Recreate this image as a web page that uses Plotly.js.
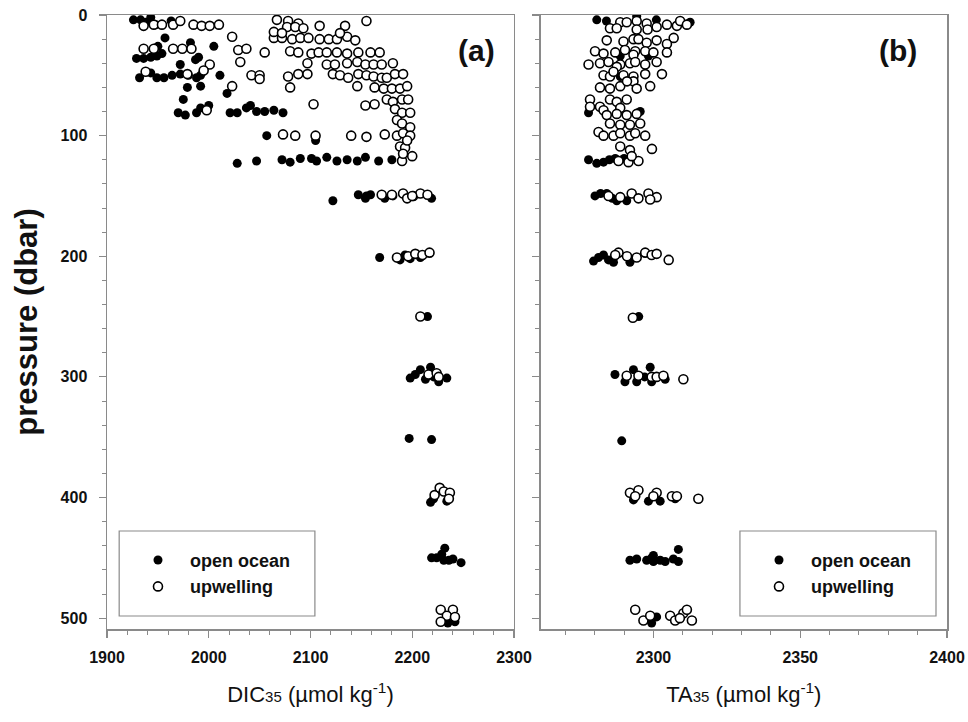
<!DOCTYPE html>
<html>
<head>
<meta charset="utf-8">
<script src="https://cdn.plot.ly/plotly-3.0.1.min.js"></script>
<style>html,body{margin:0;padding:0;background:#fff;}#chart{width:968px;height:722px;}</style>
</head>
<body>
<div id="chart"></div>
<script>
// ---- Panel (a): DIC35, open ocean (filled) ----
const dicOpenX = [1926,1933,1938,1943,1948,1963,1957,
  1929,1936,1943,1949,1954,1950,1982,1990,1987,2005,1972,
  1932,1943,1949,1956,1964,1972,1980,1988,1992,2011,
  1979,1992,2018,1975,
  1970,1977,1988,1992,2000,2021,2028,2037,2041,2047,2055,2064,2073,
  2057,2105,
  2028,2047,2072,2080,2090,2101,2106,2116,2126,2136,2146,2154,2167,2180,2190,
  2122,2147,2155,2154,2159,2173,2181,2195,2219,
  2168,2188,2193,2208,2198,
  2215,
  2198,2203,2208,2213,2218,2222,2226,2234,2221,
  2197,2219,
  2218,2221,2234,
  2219,2224,2229,2232,2231,2236,2240,2248,
  2235,2242];
const dicOpenP = [4,4,6,2,8,5,19,
  36,36,35,34,32,26,23,35,37,26,41,
  52,48,52,52,50,49,50,52,50,50,
  60,59,65,70,
  81,83,81,77,75,81,81,77,75,80,80,79,81,
  100,104,
  123,121,120,122,119,119,121,118,121,120,121,118,121,120,120,
  154,149,150,152,149,152,150,152,152,
  201,203,199,201,202,
  250,
  301,298,294,302,292,297,304,301,300,
  351,352,
  404,401,403,
  450,450,447,442,452,452,451,454,
  504,503];

// ---- Panel (a): DIC35, upwelling (open) ----
const dicUpX = [1936,1946,1954,1965,1972,1985,1993,2001,2010,
  2067,2078,2088,2077,2085,2093,2109,2134,2155,
  2064,2072,2082,2090,2098,2109,2118,2126,2136,2144,2129,2023,2064,2072,
  1936,1946,1965,1974,1983,2029,2037,2055,2080,2088,2101,2108,2116,2126,2136,2147,2159,2168,
  2031,2097,2116,2124,2136,2146,2154,2162,2170,2181,2001,
  1938,1979,1995,2042,2050,2050,2078,2088,2097,2122,2129,2137,2147,2155,2162,2170,2175,2183,2191,
  2023,2080,2146,2163,2172,2180,2188,2195,
  2103,2154,2163,2175,2181,2190,2196,
  1998,2183,2190,2198,2185,2190,2198,
  2073,2085,2105,2140,2155,2173,2185,2191,2198,2188,2193,2195,
  2190,2200,2191,
  2170,2180,2191,2201,2208,2215,2195,2200,
  2185,2196,2203,2210,2217,
  2208,
  2216,2224,2226,
  2222,2227,2231,2237,2236,
  2228,2240,2234,2242,2228];
const dicUpP = [9,8,8,8,5,8,9,9,8,
  4,5,7,10,10,11,9,9,5,
  19,19,20,19,19,20,20,20,18,21,15,18,14,15,
  28,28,28,28,28,29,28,31,30,31,32,31,31,31,32,31,31,31,
  39,40,41,41,40,39,41,41,41,40,41,
  47,49,46,50,50,53,51,49,49,49,50,52,49,50,51,52,52,49,49,
  59,60,59,60,61,61,61,59,
  74,75,74,70,72,70,70,
  79,78,81,81,87,90,93,
  99,100,100,100,101,99,100,98,100,109,110,104,
  121,117,115,
  149,149,148,150,148,149,152,150,
  201,200,198,199,197,
  250,
  298,297,300,
  398,392,395,396,401,
  493,493,498,499,503];

// ---- Panel (b): TA35, open ocean (filled) ----
const taOpenX = [2280.7,2284,2294.3,2312.5,2301,
  2288.7,2298.3,2288.7,2293.2,2277.9,2295.5,
  2277.9,2280.7,2283,2285,2287,2290,
  2280.1,2282,2284.1,2287.5,2290.9,2286,
  2279.6,2281.3,2283,2284.7,2286.4,2292,
  2295,
  2286.9,2290.3,2293.2,2294.3,2298.9,2299.4,2304,2297,
  2289.2,
  2293.2,2298.3,2302.3,2307.4,
  2292,2294.3,2297.7,2299.4,2300,2302.3,2304,2306.8,2308.5,2308.5,2300,
  2299.4,2301.1];
const taOpenP = [4,5,1,6,4,
  34,34,51,54,81,80,
  120,123,122,120,119,119,
  150,148,148,154,154,152,
  204,201,199,203,205,205,
  250,
  298,304,294,304,292,304,302,300,
  353,
  402,403,403,401,
  452,451,452,450,453,452,453,451,453,443,448,
  504,499];

// ---- Panel (b): TA35, upwelling (open) ----
const taUpX = [2285.2,2288.7,2290.9,2294.3,2297.7,2301.1,2304.6,2308,2309.1,2311.4,2287.5,2294.3,2298,
  2284.1,2289.8,2293.2,2294.9,2297.7,2301.1,2306.9,2304.6,
  2280.1,2283,2287,2290.3,2293.8,2297.2,2300,2304.6,2293.2,
  2277.9,2281.8,2284.7,2288.7,2292,2293.8,2297.2,2301.1,2287.5,
  2283,2285.2,2289.8,2293.2,2297.2,2302.9,2286.4,
  2281.8,2285.2,2288.7,2293.2,2294.3,2298.9,2291,
  2278.4,2278.4,2281.8,2285.2,2287.5,2290.9,2283,2288.7,
  2284.1,2287.5,2290.9,2294.3,
  2285.2,2288.7,2292,2295.5,
  2281.3,2283,2286.4,2288.7,2292,2293.8,2297.2,
  2288.7,2292,2299.5,
  2288.1,2291.5,2294.9,2292.6,
  2284.7,2288.7,2292.6,2294.9,2298.3,2301.1,2298.9,
  2288.1,2287,2291,2294.3,2297.2,2299.4,2301.1,2305.2,
  2293,
  2290.9,2294.9,2299.4,2301.1,2303.4,2310.2,
  2292,2294.9,2293.8,2301.1,2300,2306.3,2308,2315.3,
  2293.8,2296.6,2298.9,2305.7,2307.4,2310.2,2311.4,2313.1,2309];
const taUpP = [11,6,6,5,7,10,8,9,5,8,11,12,12,
  21,22,20,20,23,21,19,24,
  30,32,31,29,30,30,31,31,33,
  41,40,39,41,40,39,41,39,43,
  50,51,50,51,49,49,47,
  60,61,59,55,61,59,55,
  70,76,76,70,72,70,79,77,
  83,82,83,82,
  90,91,91,90,
  97,100,100,98,100,98,100,
  109,112,111,
  121,122,121,117,
  150,151,148,152,148,151,153,
  197,199,200,201,197,199,198,203,
  251,
  299,299,300,300,299,302,
  396,394,399,396,399,399,399,401,
  493,502,498,498,502,496,493,502,500];

const legendNames = ['open ocean', 'upwelling'];
const panelLabels = ['(a)', '(b)'];
const xTitleA = 'DIC<span style="font-size:15px">35</span> (µmol kg<sup>-1</sup>)';
const xTitleB = 'TA<span style="font-size:15px">35</span> (µmol kg<sup>-1</sup>)';
const yTitle = 'pressure (dbar)';

const FONT = 'Liberation Sans, Arial, sans-serif';
const filled = {size: 9, color: '#000', line: {width: 0}};
const hollow = {size: 9, color: '#fff', line: {width: 1.6, color: '#000'}};

const traces = [
  {x: dicOpenX, y: dicOpenP, type: 'scatter', mode: 'markers', name: legendNames[0], marker: filled, xaxis: 'x', yaxis: 'y', legend: 'legend'},
  {x: dicUpX, y: dicUpP, type: 'scatter', mode: 'markers', name: legendNames[1], marker: hollow, xaxis: 'x', yaxis: 'y', legend: 'legend'},
  {x: taOpenX, y: taOpenP, type: 'scatter', mode: 'markers', name: legendNames[0], marker: filled, xaxis: 'x2', yaxis: 'y2', legend: 'legend2'},
  {x: taUpX, y: taUpP, type: 'scatter', mode: 'markers', name: legendNames[1], marker: hollow, xaxis: 'x2', yaxis: 'y2', legend: 'legend2'}
];

const axisCommon = {
  showline: true, linecolor: '#8a8a8a', linewidth: 1.5, mirror: true,
  ticks: 'outside', ticklen: 7, tickwidth: 1.2, tickcolor: '#8a8a8a',
  showgrid: false, zeroline: false,
  tickfont: {family: FONT, size: 16, color: '#111', weight: 'bold'}
};
const minorX = {ticks: 'outside', ticklen: 4, tickwidth: 1, tickcolor: '#8a8a8a', showgrid: false};

const legendCommon = {
  bgcolor: 'rgba(0,0,0,0)', borderwidth: 0,
  font: {family: FONT, size: 18, color: '#111', weight: 'bold'},
  xanchor: 'left', yanchor: 'top', itemwidth: 54
};

const layout = {
  width: 968, height: 722,
  margin: {l: 107, r: 21, t: 15, b: 93},
  paper_bgcolor: '#fff', plot_bgcolor: '#fff',
  showlegend: true,
  xaxis: Object.assign({}, axisCommon, {
    domain: [0, 0.4845], range: [1900, 2300], dtick: 100, tick0: 1900,
    minor: Object.assign({dtick: 20}, minorX),
    ticklabelstandoff: 6,
    title: {text: xTitleA, standoff: 22, font: {family: FONT, size: 22, color: '#111'}},
    anchor: 'y'
  }),
  yaxis: Object.assign({}, axisCommon, {
    domain: [0, 1], range: [509, 0], dtick: 100, tick0: 0,
    minor: Object.assign({dtick: 20}, minorX),
    ticklabelstandoff: 8,
    title: {text: yTitle, standoff: 13, font: {family: FONT, size: 31, color: '#111', weight: 'bold'}},
    anchor: 'x'
  }),
  xaxis2: Object.assign({}, axisCommon, {
    domain: [0.5163, 1], range: [2261.6, 2400], dtick: 50, tick0: 2300,
    minor: Object.assign({dtick: 10}, minorX),
    ticklabelstandoff: 6,
    title: {text: xTitleB, standoff: 22, font: {family: FONT, size: 22, color: '#111'}},
    anchor: 'y2'
  }),
  yaxis2: Object.assign({}, axisCommon, {
    domain: [0, 1], range: [509, 0], dtick: 100, tick0: 0,
    minor: Object.assign({dtick: 20}, minorX),
    showticklabels: false,
    anchor: 'x2'
  }),
  legend: Object.assign({}, legendCommon, {x: 0.0226, y: 0.142}),
  legend2: Object.assign({}, legendCommon, {x: 0.7619, y: 0.142}),
  shapes: [
    {type: 'rect', xref: 'paper', yref: 'paper', x0: 0.0145, x1: 0.2475, y0: 0.0212, y1: 0.1596, line: {color: '#8a8a8a', width: 1.2}},
    {type: 'rect', xref: 'paper', yref: 'paper', x0: 0.7535, x1: 0.9869, y0: 0.0212, y1: 0.1596, line: {color: '#8a8a8a', width: 1.2}}
  ],
  annotations: [
    {text: panelLabels[0], xref: 'paper', yref: 'paper', x: 0.4393, y: 0.9414, xanchor: 'center', yanchor: 'middle', showarrow: false, font: {family: FONT, size: 30, color: '#111', weight: 'bold'}},
    {text: panelLabels[1], xref: 'paper', yref: 'paper', x: 0.9417, y: 0.9414, xanchor: 'center', yanchor: 'middle', showarrow: false, font: {family: FONT, size: 30, color: '#111', weight: 'bold'}}
  ]
};

Plotly.newPlot('chart', traces, layout, {staticPlot: true, displayModeBar: false});
</script>
</body>
</html>
